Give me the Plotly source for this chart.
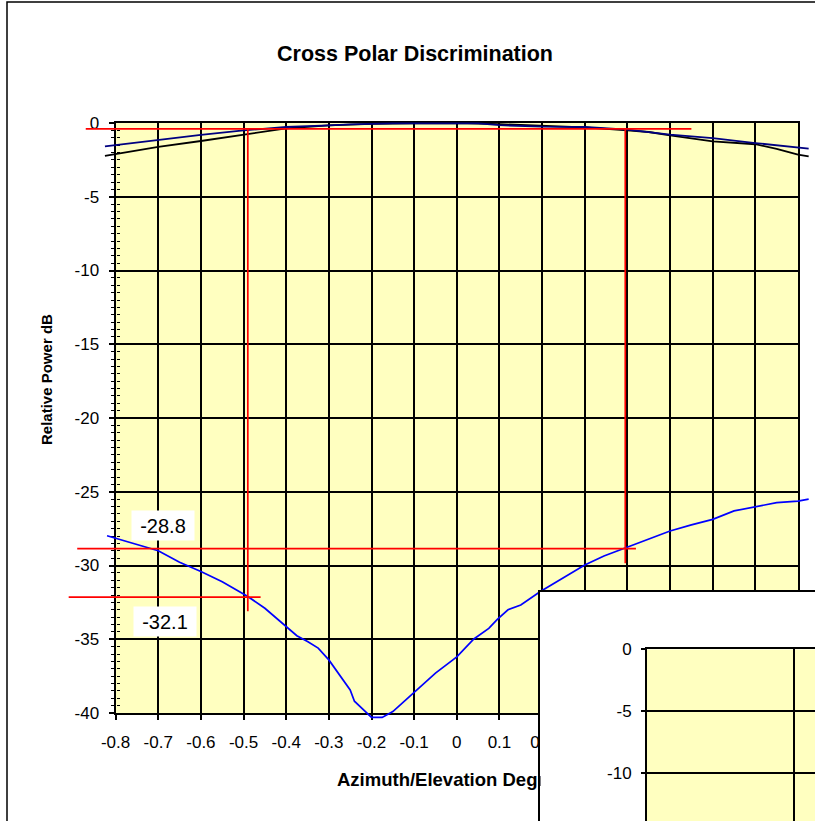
import plotly.graph_objects as go

# ---------------- data ----------------
# cross-polar response (blue)
x_cross = [-0.82, -0.75, -0.70, -0.65, -0.60, -0.55, -0.49, -0.45, -0.40, -0.375,
           -0.35, -0.325, -0.30, -0.25, -0.24, -0.20, -0.175, -0.15, -0.10, -0.05,
           0.0, 0.04, 0.075, 0.095, 0.12, 0.15, 0.195, 0.245, 0.30, 0.345,
           0.395, 0.445, 0.50, 0.55, 0.60, 0.65, 0.70, 0.75, 0.80, 0.825]
y_cross = [-27.98, -28.6, -29.0, -29.78, -30.4, -31.1, -32.1, -32.9, -34.15, -34.76,
           -35.16, -35.6, -36.4, -38.44, -39.2, -40.3, -40.3, -39.9, -38.6, -37.3,
           -36.2, -34.98, -34.26, -33.65, -33.0, -32.68, -31.78, -30.94, -29.97, -29.36,
           -28.8, -28.27, -27.66, -27.25, -26.87, -26.3, -26.0, -25.74, -25.63, -25.5]

# co-polar response 1 (black)
x_copol_black = [-0.825, -0.7, -0.6, -0.5, -0.4, -0.3, -0.2, -0.1, 0.0, 0.1,
                 0.2, 0.3, 0.4, 0.45, 0.5, 0.6, 0.7, 0.75, 0.8, 0.825]
y_copol_black = [-2.23, -1.62, -1.22, -0.8, -0.37, -0.16, -0.06, -0.02, 0.0, -0.08,
                 -0.2, -0.3, -0.5, -0.61, -0.84, -1.24, -1.44, -1.75, -2.15, -2.27]

# co-polar response 2 (navy)
x_copol_navy = [-0.825, -0.7, -0.6, -0.5, -0.4, -0.3, -0.25, -0.15, -0.05, 0.05,
                0.1, 0.2, 0.3, 0.4, 0.5, 0.6, 0.7, 0.825]
y_copol_navy = [-1.58, -1.12, -0.8, -0.5, -0.27, -0.16, -0.09, -0.02, 0.0, -0.03,
                -0.15, -0.25, -0.27, -0.45, -0.79, -1.02, -1.36, -1.74]

# hand-drawn red marker lines
marker_h_y = [-0.4, -28.85, -32.15]
marker_h_x0 = [-0.87, -0.89, -0.91]
marker_h_x1 = [0.55, 0.42, -0.46]
marker_v_x = [-0.49, 0.395]
marker_v_y0 = [-0.4, -0.4]
marker_v_y1 = [-33.1, -29.85]
marker_labels = ["-28.8", "-32.1"]

x_ticks = [-0.8, -0.7, -0.6, -0.5, -0.4, -0.3, -0.2, -0.1, 0.0,
           0.1, 0.2, 0.3, 0.4, 0.5, 0.6, 0.7, 0.8]
x_tick_labels = ["-0.8", "-0.7", "-0.6", "-0.5", "-0.4", "-0.3", "-0.2", "-0.1", "0",
                 "0.1", "0.2", "0.3", "0.4", "0.5", "0.6", "0.7", "0.8"]
y_ticks = [0, -5, -10, -15, -20, -25, -30, -35, -40]
y_tick_labels = ["0", "-5", "-10", "-15", "-20", "-25", "-30", "-35", "-40"]
inset_y_ticks = [0, -5, -10]
inset_y_tick_labels = ["0", "-5", "-10"]

title_text = "Cross Polar Discrimination"
x_title = "Azimuth/Elevation Degrees"
y_title = "Relative Power dB"

# ---------------- layout geometry (pixels) ----------------
W, H = 815, 821
def fx(px):
    return px / W
def fy(py):
    return 1 - py / H

FONT = "Liberation Sans, Arial, sans-serif"
YELLOW = "#FFFFC0"

M_L, M_R, M_T, M_B = 115.6, 798.0, 123.0, 713.0
x_range = [-0.8, 0.8]
y_range = [-40, 0]
sx = (x_range[1] - x_range[0]) / (M_R - M_L)
sy = (y_range[1] - y_range[0]) / (M_B - M_T)

E_L, E_R, E_T, E_B = 50.0, 815.0, 108.0, 735.0
ext_x_range = [x_range[0] - (M_L - E_L) * sx, x_range[1] + (E_R - M_R) * sx]
ext_y_range = [y_range[0] - (E_B - M_B) * sy, y_range[1] + (M_T - E_T) * sy]

D_L, D_T = 540.0, 592.0
I_L, I_T = 647.0, 649.3
inset_px_per_unit = 62.0 / 5
inset_y_range = [-(H - I_T) / inset_px_per_unit, 0]
inset_x_range = [0, (W - I_L) / (794.0 - I_L)]

fig = go.Figure()

# main subplot placeholders (grid, axes)
fig.add_trace(go.Scatter(x=[], y=[], xaxis="x", yaxis="y", showlegend=False, hoverinfo="skip"))
fig.add_trace(go.Scatter(x=[], y=[], xaxis="x", yaxis="y5", showlegend=False, hoverinfo="skip"))

# curves (on an overlay with a wider clip area, same scale as the main axes)
fig.add_trace(go.Scatter(x=x_copol_black, y=y_copol_black, mode="lines", xaxis="x2", yaxis="y2",
                         line=dict(color="black", width=1.8), showlegend=False))
fig.add_trace(go.Scatter(x=x_copol_navy, y=y_copol_navy, mode="lines", xaxis="x2", yaxis="y2",
                         line=dict(color="#000080", width=1.8), showlegend=False))
fig.add_trace(go.Scatter(x=x_cross, y=y_cross, mode="lines", xaxis="x2", yaxis="y2",
                         line=dict(color="#0000FF", width=1.7), showlegend=False))
for yv, x0, x1 in zip(marker_h_y, marker_h_x0, marker_h_x1):
    fig.add_trace(go.Scatter(x=[x0, x1], y=[yv, yv], mode="lines", xaxis="x2", yaxis="y2",
                             line=dict(color="#FF0000", width=1.7), showlegend=False))
for xv, y0, y1 in zip(marker_v_x, marker_v_y0, marker_v_y1):
    fig.add_trace(go.Scatter(x=[xv, xv], y=[y0, y1], mode="lines", xaxis="x2", yaxis="y2",
                             line=dict(color="#FF0000", width=1.7), showlegend=False))

# second chart (inset) placeholders
fig.add_trace(go.Scatter(x=[], y=[], xaxis="x3", yaxis="y3", showlegend=False, hoverinfo="skip"))
fig.add_trace(go.Scatter(x=[], y=[], xaxis="x4", yaxis="y4", showlegend=False, hoverinfo="skip"))

axis_common = dict(showgrid=True, gridcolor="black", gridwidth=1.5, zeroline=False,
                   showline=True, linecolor="black", linewidth=2,
                   tickcolor="black", tickwidth=1.5, automargin=False,
                   tickfont=dict(family=FONT, size=17, color="black"))

fig.update_layout(
    width=W, height=H,
    margin=dict(l=0, r=0, t=0, b=0, pad=0, autoexpand=False),
    paper_bgcolor="white",
    plot_bgcolor="rgba(0,0,0,0)",
    showlegend=False,
    title=dict(text=title_text, x=fx(415), xanchor="center", y=fy(53), yanchor="middle",
               font=dict(family=FONT, size=21.5, color="black", weight="bold")),
    xaxis=dict(domain=[fx(M_L), fx(M_R)], range=x_range, anchor="y",
               tickmode="array", tickvals=x_ticks, ticktext=x_tick_labels,
               ticks="outside", ticklen=5, mirror=True, ticklabelstandoff=8, **axis_common),
    yaxis=dict(domain=[fy(M_B), fy(M_T)], range=y_range, anchor="x",
               tickmode="array", tickvals=y_ticks, ticktext=y_tick_labels,
               ticks="outside", ticklen=5, mirror=True, ticklabelstandoff=6,
               minor=dict(tick0=0, dtick=0.5, ticks="outside", ticklen=3, tickwidth=1,
                          tickcolor="black", showgrid=False),
               **axis_common),
    yaxis5=dict(overlaying="y", anchor="free", position=fx(M_L), side="left", range=y_range,
                tick0=0, dtick=0.5, ticks="inside", ticklen=3, tickwidth=1, tickcolor="black",
                showticklabels=False, showgrid=False, zeroline=False, showline=False,
                automargin=False),
    xaxis2=dict(domain=[fx(E_L), fx(E_R)], range=ext_x_range, anchor="y2", visible=False,
                automargin=False),
    yaxis2=dict(domain=[fy(E_B), fy(E_T)], range=ext_y_range, anchor="x2", visible=False,
                automargin=False),
    xaxis3=dict(domain=[fx(D_L), 1], range=[0, 1], anchor="y3", side="top",
                showline=True, linecolor="black", linewidth=1.5, showgrid=False,
                zeroline=False, showticklabels=False, ticks="", automargin=False),
    yaxis3=dict(domain=[0, fy(D_T)], range=[0, 1], anchor="x3",
                showline=True, linecolor="black", linewidth=1.5, showgrid=False,
                zeroline=False, showticklabels=False, ticks="", automargin=False),
    xaxis4=dict(domain=[fx(I_L), 1], range=inset_x_range, anchor="y4", side="top",
                tick0=0, dtick=1, ticks="", showticklabels=False, **axis_common),
    yaxis4=dict(domain=[0, fy(I_T)], range=inset_y_range, anchor="x4",
                tickmode="array", tickvals=inset_y_ticks, ticktext=inset_y_tick_labels,
                ticks="outside", ticklen=4, ticklabelstandoff=6, **axis_common),
)

fig.update_layout(shapes=[
    # outer chart border
    dict(type="rect", xref="paper", yref="paper", x0=fx(7), x1=1.3, y0=-0.3, y1=fy(2),
         line=dict(color="black", width=1.5), fillcolor="rgba(0,0,0,0)", layer="below"),
    # main plot area fill
    dict(type="rect", xref="x", yref="y", x0=x_range[0], x1=x_range[1], y0=y_range[0], y1=y_range[1],
         line=dict(width=0), fillcolor=YELLOW, layer="below"),
    # second chart area (white)
    dict(type="rect", xref="x3", yref="y3", x0=0, x1=1, y0=0, y1=1,
         line=dict(width=0), fillcolor="white", layer="below"),
    # second chart plot area
    dict(type="rect", xref="x4", yref="y4", x0=inset_x_range[0], x1=inset_x_range[1],
         y0=inset_y_range[0], y1=inset_y_range[1],
         line=dict(width=0), fillcolor=YELLOW, layer="below"),
])

annotations = [
    dict(text=y_title, xref="paper", yref="paper", x=fx(47), y=fy(380), textangle=-90,
         xanchor="center", yanchor="middle",
         showarrow=False, font=dict(family=FONT, size=15, color="black", weight="bold")),
    dict(text=x_title, xref="paper", yref="paper", x=(fx(M_L) + fx(M_R)) / 2, y=fy(779),
         xanchor="center", yanchor="middle", showarrow=False,
         font=dict(family=FONT, size=18.5, color="black", weight="bold")),
    # part of the x title hidden behind the second chart
    dict(text=" ", xref="paper", yref="paper", x=fx(570.6), y=fy(779), width=60, height=34,
         xanchor="center", yanchor="middle",
         bgcolor="white", showarrow=False, borderpad=0),
]
label_pos = [(-0.689, -27.3), (-0.684, -33.8)]
for txt, (lx, ly) in zip(marker_labels, label_pos):
    annotations.append(dict(text=txt, xref="x", yref="y", x=lx, y=ly, showarrow=False,
                            xanchor="center", yanchor="middle",
                            bgcolor="white", width=62, height=29, borderpad=0,
                            font=dict(family=FONT, size=20, color="black")))
fig.update_layout(annotations=annotations)

fig.write_html("out.html", config={"displayModeBar": False},
               post_script="document.body.style.margin='0px';")
